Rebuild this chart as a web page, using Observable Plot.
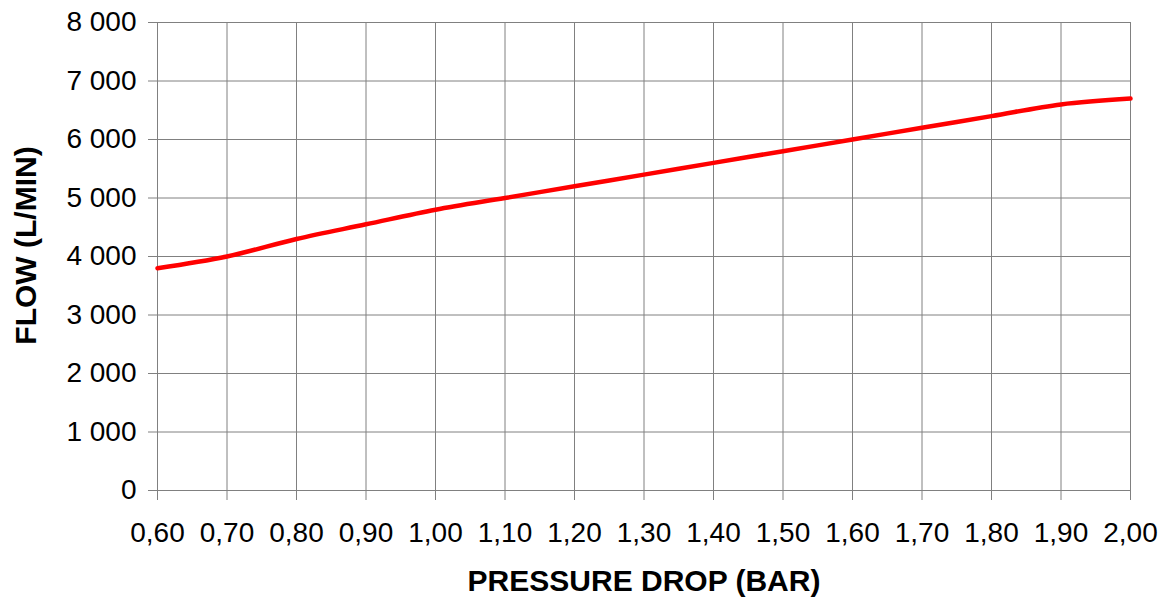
<!DOCTYPE html>
<html>
<head>
<meta charset="utf-8">
<script src="https://cdn.jsdelivr.net/npm/d3@7"></script>
<script src="https://cdn.jsdelivr.net/npm/@observablehq/plot@0.6"></script>
<style>
  html, body { margin: 0; padding: 0; background: white; }
  #chart svg { display: block; }
</style>
</head>
<body>
<div id="chart"></div>
<script>
const pressure = [0.6, 0.7, 0.8, 0.9, 1.0, 1.1, 1.2, 1.3, 1.4, 1.5, 1.6, 1.7, 1.8, 1.9, 2.0];
const flow = [3800, 4000, 4300, 4550, 4800, 5000, 5200, 5400, 5600, 5800, 6000, 6200, 6400, 6600, 6700];
const xTicks = [0.6, 0.7, 0.8, 0.9, 1.0, 1.1, 1.2, 1.3, 1.4, 1.5, 1.6, 1.7, 1.8, 1.9, 2.0];
const yTicks = [0, 1000, 2000, 3000, 4000, 5000, 6000, 7000, 8000];
const xTitle = "PRESSURE DROP (BAR)";
const yTitle = "FLOW (L/MIN)";

const data = pressure.map((p, i) => ({pressure: p, flow: flow[i]}));

const chart = Plot.plot({
  width: 1166,
  height: 597,
  marginLeft: 157,
  marginRight: 36,
  marginTop: 22,
  marginBottom: 107,
  style: {fontFamily: "'Liberation Sans', Arial, sans-serif", background: "white", color: "black"},
  x: {domain: [0.6, 2.0]},
  y: {domain: [0, 8000]},
  marks: [
    Plot.ruleX(xTicks, {stroke: "#808080", strokeWidth: 1, insetBottom: -10}),
    Plot.ruleY(yTicks, {stroke: "#808080", strokeWidth: 1, insetLeft: -9}),
    Plot.axisX({ticks: xTicks, tickSize: 0, tickPadding: 32, fontSize: 28, label: null,
      tickFormat: d => d.toFixed(2).replace(".", ",")}),
    Plot.axisY({ticks: yTicks, tickSize: 0, tickPadding: 21, fontSize: 28, label: null,
      tickFormat: d => d3.format(",")(d).replace(/,/g, " ")}),
    Plot.line(data, {x: "pressure", y: "flow", stroke: "#ff0000", strokeWidth: 4.5, curve: "catmull-rom"}),
    Plot.text([xTitle], {text: d => d, frameAnchor: "bottom", textAnchor: "middle", lineAnchor: "middle", dy: 91, fontSize: 30, fontWeight: "bold", fill: "black"}),
    Plot.text([yTitle], {text: d => d, frameAnchor: "left", textAnchor: "middle", lineAnchor: "middle", dx: -131, dy: -11, rotate: -90, fontSize: 30, fontWeight: "bold", fill: "black"})
  ]
});
document.getElementById("chart").appendChild(chart);
</script>
</body>
</html>
